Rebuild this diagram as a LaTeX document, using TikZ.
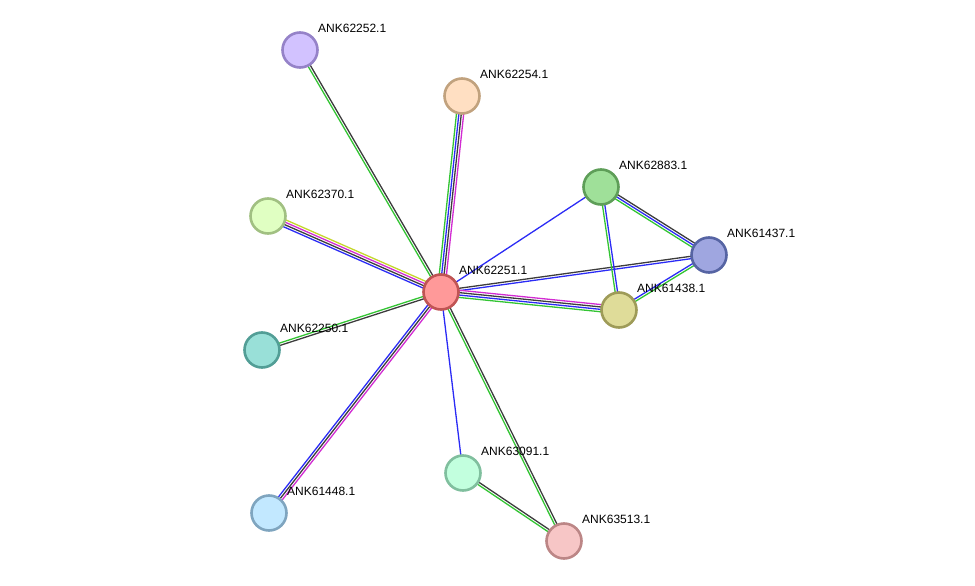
\documentclass[tikz,border=0pt]{standalone}
\usepackage{fontspec}
\setmainfont{Liberation Sans}
\usetikzlibrary{calc, backgrounds}

\definecolor{egreen}{HTML}{33C433}
\definecolor{eblue}{HTML}{2B2BF5}
\definecolor{egray}{HTML}{3C3C3C}
\definecolor{epink}{HTML}{D22BD2}
\definecolor{eyellow}{HTML}{C4D62B}

% one coloured strand per evidence channel, side by side
\newcommand{\ppedge}[3]{%
  \foreach \c [count=\i] in {#3} {\xdef\nlines{\i}}%
  \foreach \c [count=\i] in {#3} {%
    \pgfmathsetmacro\off{((\nlines+1)/2-\i)*2.4}%
    \draw[edge, color=\c] ($(#1)!\off pt!90:(#2)$) -- ($(#2)!\off pt!-90:(#1)$);
  }%
}

\begin{document}
\begin{tikzpicture}[x=1pt, y=-1pt,
    prot/.style={shape=circle, minimum size=35pt, inner sep=0pt, line width=2.6pt},
    lbl/.style={anchor=west, inner sep=0pt, font=\fontsize{12}{14}\selectfont},
    edge/.style={line width=1.3pt}]
    \useasboundingbox (0,0) rectangle (975,586);
    %Proteins
    \foreach \name/\x/\y/\fc/\dc/\txt in {
        p62251/441/292/FF9999/C05454/ANK62251.1,
        p62252/300/50/D2C2FF/9582C8/ANK62252.1,
        p62254/462/96/FFDFC2/C1A27E/ANK62254.1,
        p62370/268/216/E0FFC2/A1C082/ANK62370.1,
        p62250/262/350/99E0D8/529E96/ANK62250.1,
        p61448/269/513/C2E8FF/7FA5BF/ANK61448.1,
        p63091/463/473/C2FFDE/80BF9E/ANK63091.1,
        p63513/564/541/F7C6C6/BC8686/ANK63513.1,
        p62883/601/187/9FE099/5E9E58/ANK62883.1,
        p61437/709/255/9FA6E0/5664A3/ANK61437.1,
        p61438/619/310/DFDC99/9E9B58/ANK61438.1} {
        \definecolor{fc}{HTML}{\fc}
        \definecolor{dc}{HTML}{\dc}
        \node (\name) at (\x,\y) [prot, fill=fc, draw=dc] {};
        \node (\name-l) at ([xshift=18pt, yshift=22pt]\name.center) [lbl] {\txt};
    }
    %Associations
    \begin{pgfonlayer}{background}
        \ppedge{p62251}{p62252}{egreen,egray}
        \ppedge{p62251}{p62254}{egreen,eblue,egray,epink}
        \ppedge{p62251}{p62370}{eblue,egray,epink,eyellow}
        \ppedge{p62251}{p62250}{egray,egreen}
        \ppedge{p62251}{p61448}{epink,egray,eblue}
        \ppedge{p62251}{p63091}{eblue}
        \ppedge{p62251}{p63513}{egray,egreen}
        \ppedge{p62251}{p62883}{eblue}
        \ppedge{p62251}{p61437}{egray,eblue}
        \ppedge{p62251}{p61438}{epink,egray,eblue,egreen}
        \ppedge{p62883}{p61437}{egray,eblue,egreen}
        \ppedge{p62883}{p61438}{eblue,egreen}
        \ppedge{p61437}{p61438}{egreen,eblue}
        \ppedge{p63091}{p63513}{egray,egreen}
    \end{pgfonlayer}
\end{tikzpicture}
\end{document}
